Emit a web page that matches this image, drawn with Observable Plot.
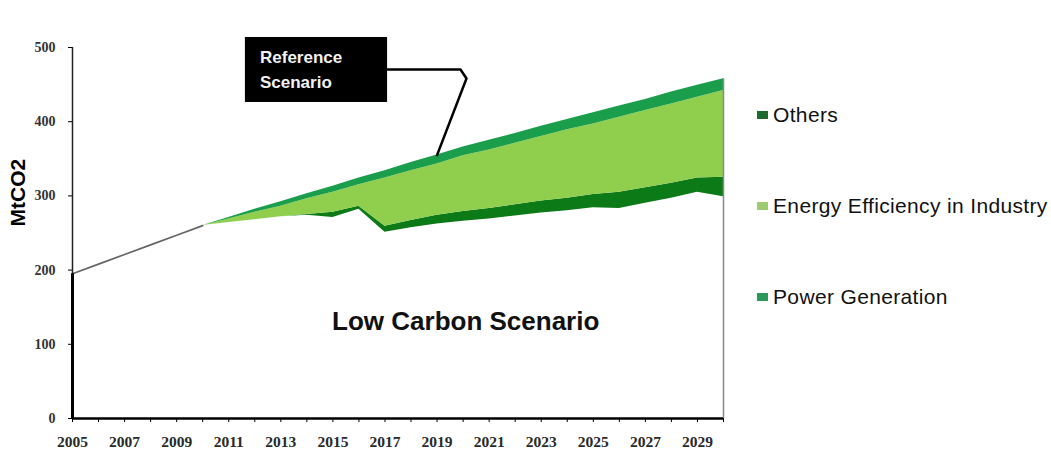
<!DOCTYPE html>
<html>
<head>
<meta charset="utf-8">
<script src="https://cdn.jsdelivr.net/npm/d3@7"></script>
<script src="https://cdn.jsdelivr.net/npm/@observablehq/plot@0.6"></script>
<style>
  html, body { margin: 0; padding: 0; background: #fff; }
  #chart { position: relative; width: 1051px; height: 450px; overflow: hidden; }
  #legend { position: absolute; left: 757px; top: 0; font-family: "Liberation Sans", Arial, sans-serif; font-size: 21px; letter-spacing: 0.35px; color: #111; }
  .item { position: absolute; left: 0; display: flex; align-items: center; height: 26px; white-space: nowrap; }
  .sw { width: 11px; height: 8px; margin-right: 5px; }
</style>
</head>
<body>
<div id="chart"><div id="legend"></div></div>
<script>
// Emissions pathways, MtCO2 per year
const years = [2005, 2006, 2007, 2008, 2009, 2010, 2011, 2012, 2013, 2014, 2015, 2016, 2017,
               2018, 2019, 2020, 2021, 2022, 2023, 2024, 2025, 2026, 2027, 2028, 2029, 2030];

// Low carbon scenario (base of the stack)
const lowCarbon = [195, 208, 221, 234, 247, 260, 264, 268, 272, 274, 271, 282, 251,
                   257, 262, 266, 269, 273, 277, 280, 284, 283, 290, 297, 305, 299];

// Abatement wedges between the low carbon and the reference scenario
const others = [null, null, null, null, null, 0, 0, 0, 0, 1, 7, 4, 8,
                10, 12, 13, 14, 15, 16, 17, 18, 22, 21, 20, 19, 26];
const efficiency = [null, null, null, null, null, 0, 5, 10, 14, 21, 27, 29, 65,
                    67, 69, 75, 79, 83, 87, 92, 95, 101, 104, 107, 109, 117];
const power = [null, null, null, null, null, 0, 2, 4, 6, 7, 8, 9, 10,
               11, 12, 12, 13, 13, 14, 14, 15, 15, 15, 16, 16, 16];

const seriesNames = ["Low Carbon Scenario", "Others", "Energy Efficiency in Industry", "Power Generation"];
const seriesValues = [lowCarbon, others, efficiency, power];
const legendNames = ["Others", "Energy Efficiency in Industry", "Power Generation"];

const xTickLabels = ["2005", "2007", "2009", "2011", "2013", "2015", "2017", "2019",
                     "2021", "2023", "2025", "2027", "2029"];
const yTicks = [0, 100, 200, 300, 400, 500];

// tidy rows for the stacked areas
const rows = [];
seriesNames.forEach((name, s) => {
  seriesValues[s].forEach((v, i) => {
    if (v != null) rows.push({year: years[i], value: v, series: name});
  });
});

const total = i => seriesValues.reduce((acc, arr) => acc + (arr[i] ?? 0), 0);
const iCallout = years.indexOf(2019);
const iLast = years.length - 1;
const early = years.map((y, i) => ({year: y, value: lowCarbon[i]})).filter(d => d.year <= 2010);

const fills = ["none", "#0c7a16", "#90ce4e", "#1b9e4b"];
const swatches = ["#1d6b2c", "#9dcc6e", "#2a9a5a"];

const plot = Plot.plot({
  width: 1051,
  height: 450,
  marginLeft: 72,
  marginRight: 328,
  marginTop: 47,
  marginBottom: 32,
  style: {background: "transparent", overflow: "visible", fontFamily: "Liberation Serif, 'Times New Roman', serif"},
  x: {domain: [2005, 2030]},
  y: {domain: [0, 500]},
  color: {domain: seriesNames, range: fills},
  marks: [
    Plot.areaY(rows, {x: "year", y: "value", z: "series", fill: "series", order: seriesNames}),
    Plot.line(early, {x: "year", y: "value", stroke: "#666", strokeWidth: 1.7}),
    Plot.ruleX([2030], {y1: 0, y2: total(iLast), stroke: "#8a8a8a", strokeWidth: 1.5}),
    Plot.ruleX([2005], {y1: 0, y2: 500, stroke: "#222", strokeWidth: 1.5}),
    Plot.ruleX([2005], {y1: 0, y2: lowCarbon[0], stroke: "#000", strokeWidth: 3}),
    Plot.ruleY([0], {x1: 2005, x2: 2030, stroke: "#000", strokeWidth: 2.5}),
    Plot.axisY({ticks: yTicks, tickSize: 4, tickPadding: 13, tickFormat: d => String(d),
      fontSize: 14, fontWeight: "bold", fill: "#333", stroke: "#000", label: null}),
    Plot.axisX({ticks: years, tickSize: 4, tickPadding: 13,
      tickFormat: d => xTickLabels.includes(String(d)) ? String(d) : "",
      fontSize: 15.5, fontWeight: "bold", fill: "#2a2a2a", stroke: "#000", label: null}),
    Plot.text(["MtCO2"], {frameAnchor: "left", dx: -54.5, dy: -6.5, rotate: -90,
      fontSize: 21, fontWeight: "bold", fontFamily: "Liberation Sans, Arial, sans-serif", fill: "#000"}),
    // scenario labels
    Plot.text(["Low Carbon Scenario"], {x: 2020.1, y: 131, fontSize: 26, fontWeight: "bold",
      fontFamily: "Liberation Sans, Arial, sans-serif", fill: "#111"}),
    Plot.rect([0], {x1: 2011.64, x2: 2017.1, y1: 425.9, y2: 513.5, fill: "#000"}),
    Plot.text(["Reference", "Scenario"], {x: 2012.2, y: (d, i) => i === 0 ? 486.5 : 452.8,
      textAnchor: "start", fontSize: 17, fontWeight: "bold",
      fontFamily: "Liberation Sans, Arial, sans-serif", fill: "#f2f2f2"}),
    Plot.line([[2017.1, 470.4], [2019.9, 470.4], [2020.13, 458.2], [years[iCallout], total(iCallout)]],
      {x: d => d[0], y: d => d[1], stroke: "#000", strokeWidth: 2.5})
  ]
});

const chart = document.getElementById("chart");
chart.insertBefore(plot, chart.firstChild);

// legend on the right
const legend = document.getElementById("legend");
const centers = [115, 206, 297];
legendNames.forEach((name, i) => {
  const item = document.createElement("div");
  item.className = "item";
  item.style.top = (centers[i] - 13) + "px";
  const sw = document.createElement("span");
  sw.className = "sw";
  sw.style.background = swatches[i];
  const label = document.createElement("span");
  label.textContent = name;
  item.appendChild(sw);
  item.appendChild(label);
  legend.appendChild(item);
});
</script>
</body>
</html>
